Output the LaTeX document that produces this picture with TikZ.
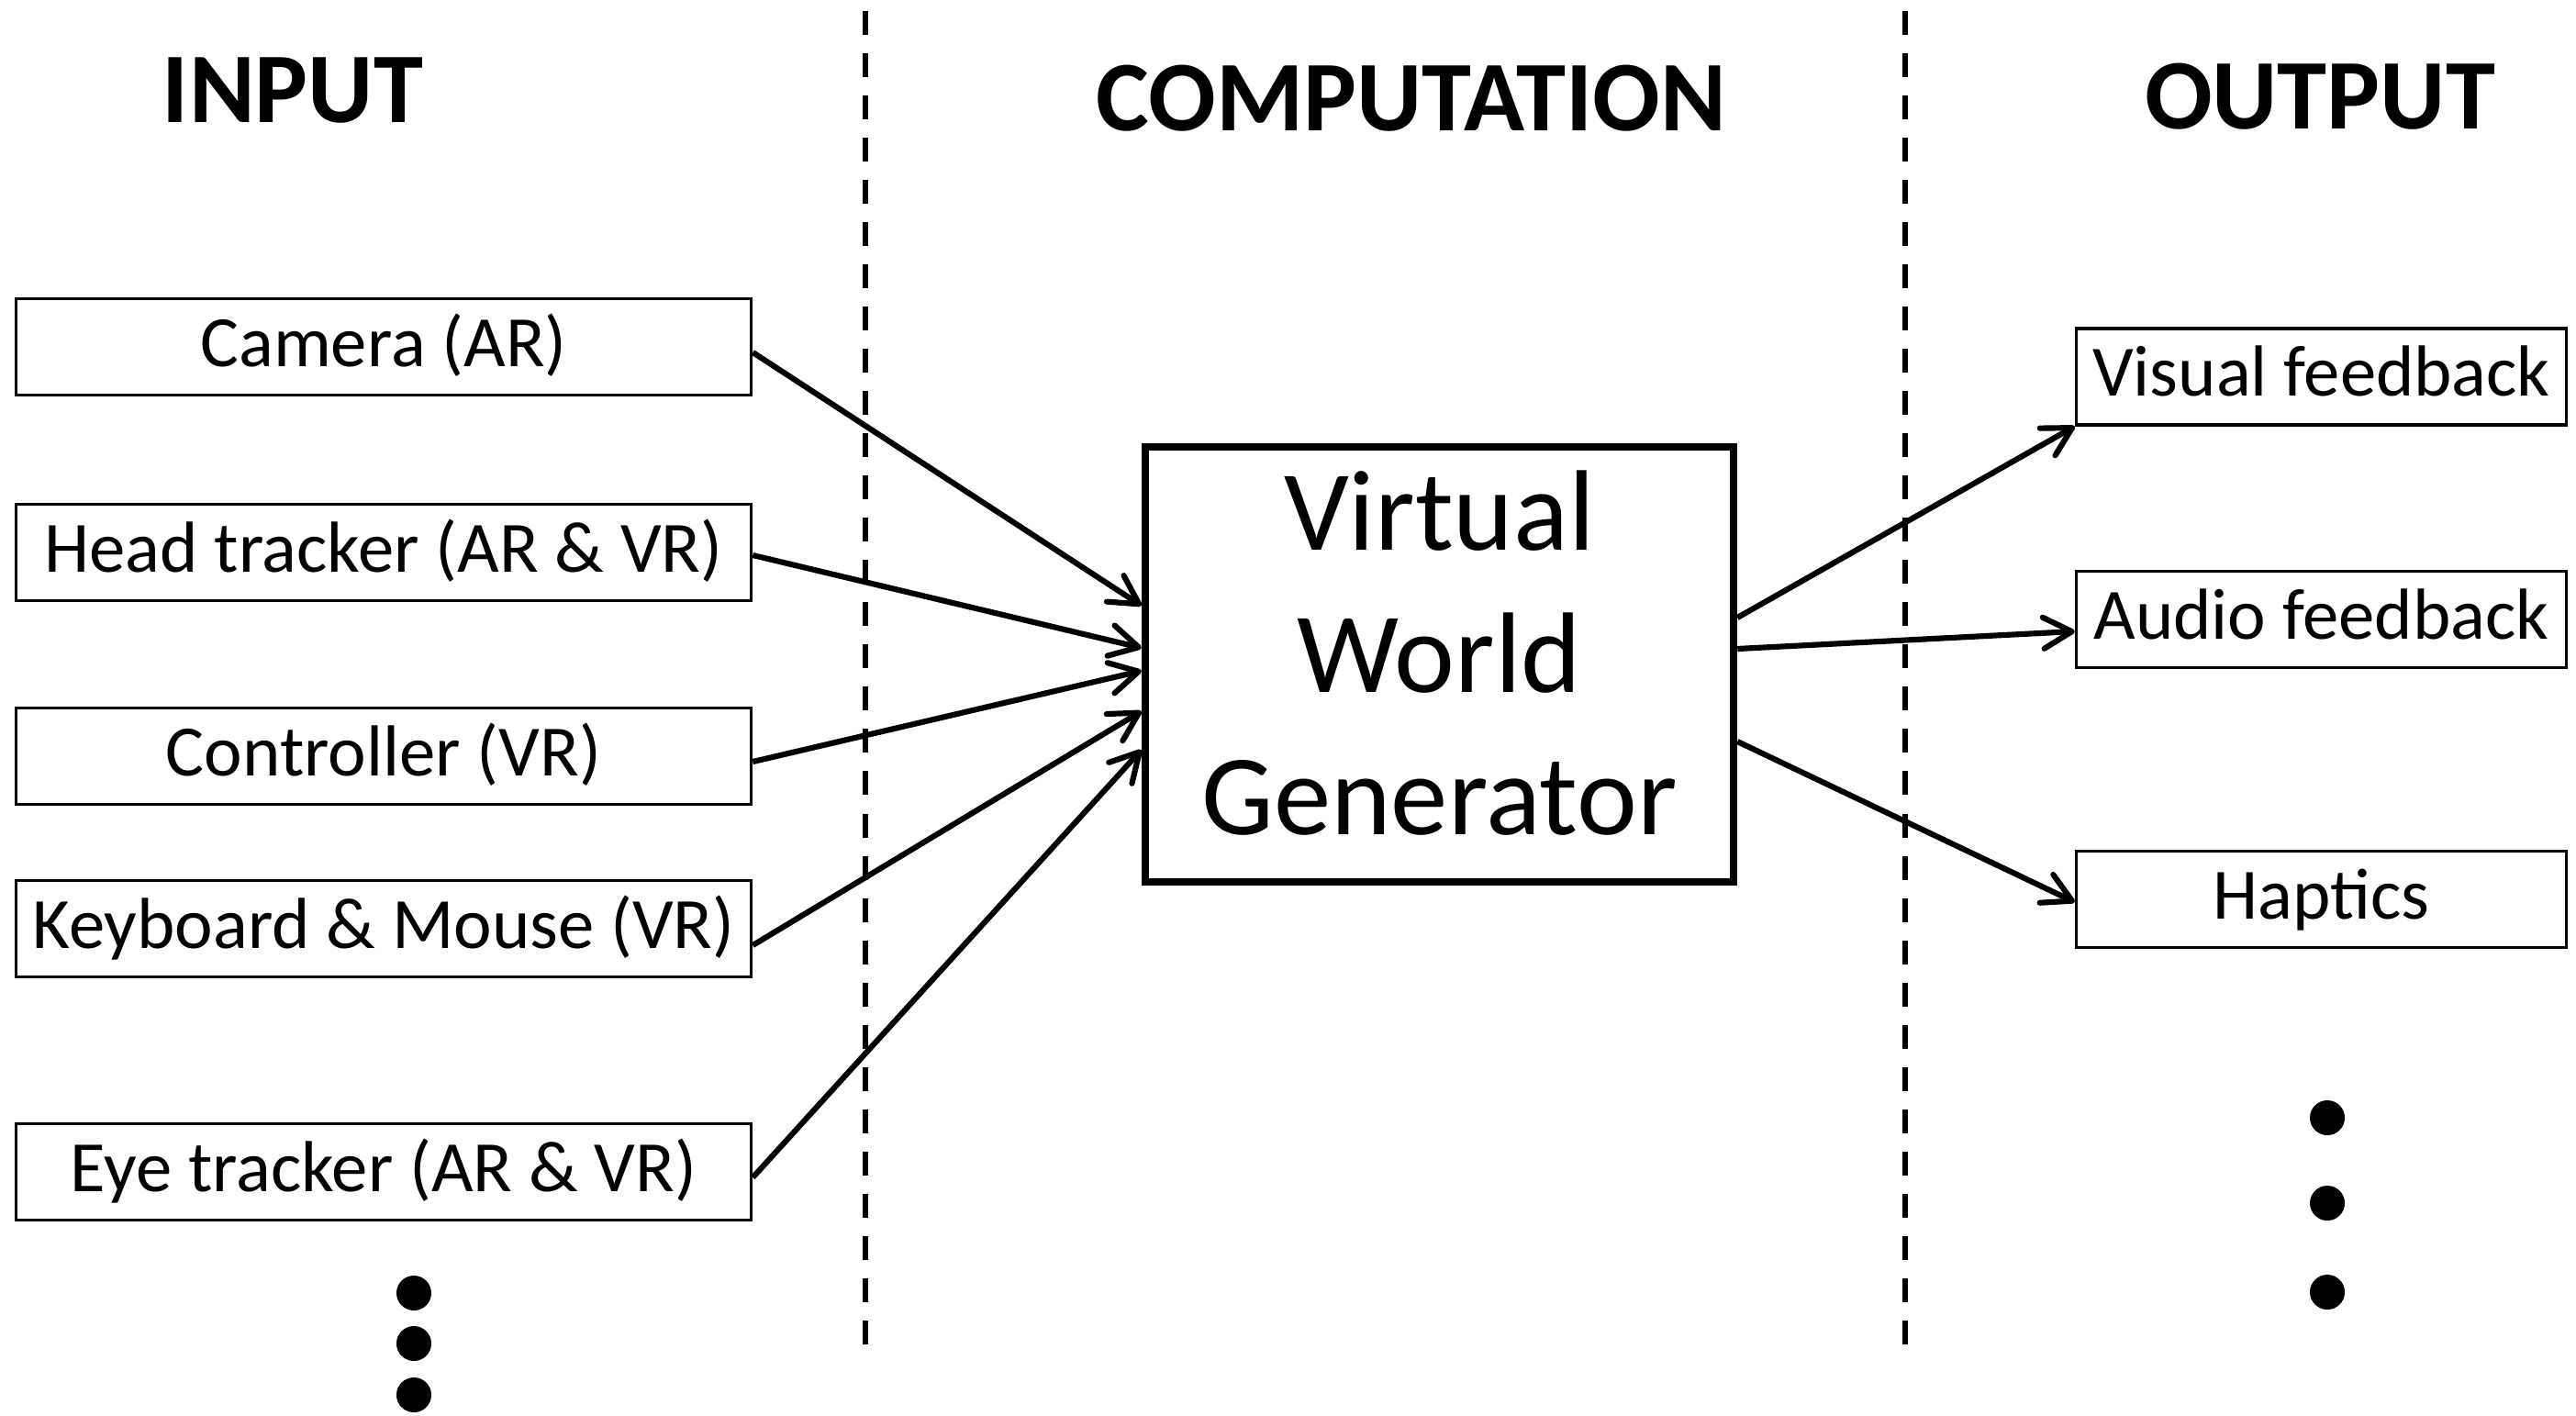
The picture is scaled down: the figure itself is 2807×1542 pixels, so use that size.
\documentclass[tikz,border=0pt]{standalone}
\usepackage{fontspec}
\setmainfont{Carlito}
\usetikzlibrary{arrows.meta}
\begin{document}
\begin{tikzpicture}[x=0.01cm,y=-0.01cm,
  inbox/.style={draw,line width=0.9pt,minimum width=8.01cm,minimum height=1.05cm,
    inner sep=0pt,font=\fontsize{22.4}{27}\selectfont,text height=0.62cm,text depth=0.2cm},
  outbox/.style={inbox,minimum width=5.34cm},
  engine/.style={draw,line width=2.3pt,minimum width=6.41cm,minimum height=4.74cm,
    inner sep=0pt,align=center,font=\fontsize{35.5}{44.2}\selectfont},
  heading/.style={inner sep=0pt,font=\fontsize{31}{37}\selectfont\bfseries},
  flow/.style={line width=1.75pt,-{Straight Barb[length=0.31cm,width=0.34cm,round]}},
  divider/.style={line width=1.9pt,dash pattern=on 0.26cm off 0.2cm}]
\useasboundingbox (0,0) rectangle (2807,1542);

% column headings
\node[heading] (hin)   at (319,99)   {INPUT};
\node[heading] (hcomp) at (1538,107) {COMPUTATION};
\node[heading] (hout)  at (2528,105) {OUTPUT};

% column separators
\coordinate (s1top) at (943,12);
\coordinate (s1bot) at (943,1477);
\coordinate (s2top) at (2076,12);
\coordinate (s2bot) at (2076,1477);
\draw[divider] (s1top) -- (s1bot);
\draw[divider] (s2top) -- (s2bot);

% input devices
\node[inbox] (cam)  at (418,378)  {Camera (AR)};
\node[inbox] (head) at (418,602)  {Head tracker (AR \& VR)};
\node[inbox] (ctrl) at (418,824)  {Controller (VR)};
\node[inbox] (kbd)  at (418,1012) {Keyboard \& Mouse (VR)};
\node[inbox] (eye)  at (418,1277) {Eye tracker (AR \& VR)};

% generator
\node[engine] (vwg) at (1568.5,724)
  {\rule{0pt}{1cm}Virtual\\World\\Generator\rule[-0.39cm]{0pt}{0pt}};

% outputs
\node[outbox] (vis) at (2529.5,410.5) {Visual feedback};
\node[outbox] (aud) at (2529.5,675)   {Audio feedback};
\node[outbox] (hap) at (2529.5,980)   {Haptics};

% inputs into the generator
\draw[flow] ([yshift=-0.06cm]cam.east)  -- ([yshift=0.64cm]vwg.west);
\draw[flow] ([yshift=-0.03cm]head.east) -- ([yshift=0.18cm]vwg.west);
\draw[flow] ([yshift=-0.06cm]ctrl.east) -- ([yshift=-0.07cm]vwg.west);
\draw[flow] ([yshift=-0.18cm]kbd.east)  -- ([yshift=-0.51cm]vwg.west);
\draw[flow] ([yshift=-0.06cm]eye.east)  -- ([yshift=-0.93cm]vwg.west);

% generator to outputs
\draw[flow] ([yshift=0.51cm]vwg.east)  -- (vis.south west);
\draw[flow] ([yshift=0.17cm]vwg.east)  -- ([yshift=-0.13cm]aud.west);
\draw[flow] ([yshift=-0.84cm]vwg.east) -- ([yshift=-0.03cm]hap.west);

% continuation dots
\fill (451,1409) circle[radius=0.19cm];
\fill (451,1464) circle[radius=0.19cm];
\fill (451,1520) circle[radius=0.19cm];
\fill (2536,1218) circle[radius=0.19cm];
\fill (2536,1311) circle[radius=0.19cm];
\fill (2536,1408) circle[radius=0.19cm];
\end{tikzpicture}
\end{document}
